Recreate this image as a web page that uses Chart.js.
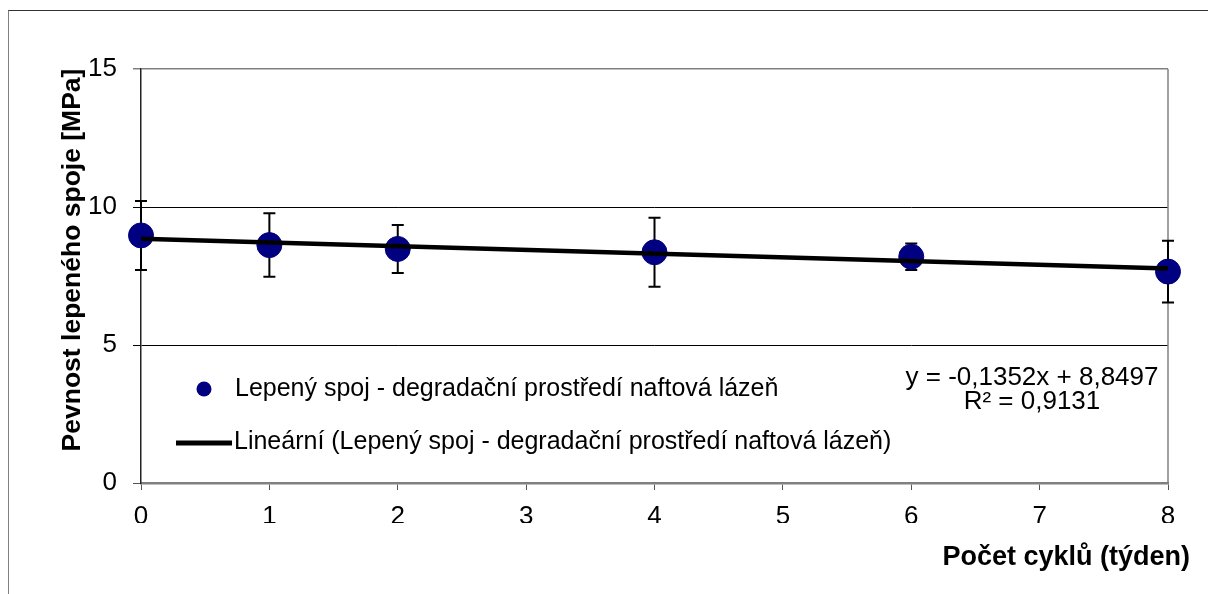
<!DOCTYPE html>
<html>
<head>
<meta charset="utf-8">
<script src="https://cdn.jsdelivr.net/npm/chart.js@4"></script>
<style>
  body { margin: 0; background: #fff; }
  #wrap { position: relative; width: 1208px; height: 594px; }
  #frame { position: absolute; left: 8px; top: 10px; width: 1300px; height: 700px;
           border-left: 1px solid #808080; border-top: 1px solid #333; }
  canvas { position: absolute; left: 0; top: 0; }
</style>
</head>
<body>
<div id="wrap">
  <div id="frame"></div>
  <canvas id="graf" width="1208" height="594"></canvas>
</div>
<script>
// Data
const tydny = [0, 1, 2, 4, 6, 8];
const pevnost = [8.97, 8.62, 8.48, 8.36, 8.20, 7.66];
const odchylka = [1.25, 1.15, 0.87, 1.25, 0.48, 1.12];
const trendX = [0, 8];
const trendY = [8.8497, 7.7681];
const yTicks = [0, 5, 10, 15];
const xTicks = [0, 1, 2, 3, 4, 5, 6, 7, 8];

const nazevRady = 'Lepený spoj - degradační prostředí naftová lázeň';
const nazevTrendu = 'Lineární (Lepený spoj - degradační prostředí naftová lázeň)';
const rovnice = ['y = -0,1352x + 8,8497', 'R² = 0,9131'];

const pismo = '"Liberation Sans", Arial, sans-serif';

// chybové úsečky, rámeček, popisky os, legenda
const doplnky = {
    id: 'doplnky',
    beforeDatasetsDraw(chart) {
        const { ctx, scales: { x, y }, chartArea: a } = chart;
        ctx.save();
        // pravý okraj plochy
        ctx.strokeStyle = '#808080';
        ctx.lineWidth = 1.5;
        ctx.beginPath();
        ctx.moveTo(a.right, a.top);
        ctx.lineTo(a.right, a.bottom);
        ctx.stroke();
        // chybové úsečky
        ctx.strokeStyle = '#000';
        ctx.lineWidth = 2;
        tydny.forEach((t, i) => {
            const px = x.getPixelForValue(t);
            const top = y.getPixelForValue(pevnost[i] + odchylka[i]);
            const bot = y.getPixelForValue(pevnost[i] - odchylka[i]);
            ctx.beginPath();
            ctx.moveTo(px, top); ctx.lineTo(px, bot);
            ctx.moveTo(px - 6, top); ctx.lineTo(px + 6, top);
            ctx.moveTo(px - 6, bot); ctx.lineTo(px + 6, bot);
            ctx.stroke();
        });
        ctx.restore();
    },
    afterDraw(chart) {
        const { ctx } = chart;
        ctx.save();
        ctx.fillStyle = '#000';
        // popisek osy y
        ctx.font = 'bold 26.5px ' + pismo;
        ctx.textAlign = 'center';
        ctx.textBaseline = 'middle';
        ctx.translate(73, 260);
        ctx.rotate(-Math.PI / 2);
        ctx.fillText('Pevnost lepeného spoje [MPa]', 0, 0);
        ctx.setTransform(1, 0, 0, 1, 0, 0);
        // popisek osy x
        ctx.font = 'bold 27px ' + pismo;
        ctx.textAlign = 'right';
        ctx.fillText('Počet cyklů (týden)', 1190, 558);
        // legenda
        ctx.font = '25px ' + pismo;
        ctx.textAlign = 'left';
        ctx.fillStyle = '#000080';
        ctx.beginPath();
        ctx.arc(204, 389, 7.5, 0, Math.PI * 2);
        ctx.fill();
        ctx.fillStyle = '#000';
        ctx.fillText(nazevRady, 235, 389);
        ctx.strokeStyle = '#000';
        ctx.lineWidth = 5;
        ctx.beginPath();
        ctx.moveTo(176, 443); ctx.lineTo(232, 443);
        ctx.stroke();
        ctx.fillText(nazevTrendu, 234, 442);
        // rovnice trendu
        ctx.font = '26px ' + pismo;
        ctx.textAlign = 'center';
        ctx.fillText(rovnice[0], 1032, 378);
        ctx.fillText(rovnice[1], 1032, 402);
        ctx.restore();
    }
};

new Chart(document.getElementById('graf'), {
    type: 'scatter',
    data: {
        datasets: [{
            label: nazevRady,
            data: tydny.map((t, i) => ({ x: t, y: pevnost[i] })),
            backgroundColor: '#000080',
            borderColor: '#000080',
            pointRadius: 12.5,
            clip: false,
            order: 1,
        }, {
            label: nazevTrendu,
            type: 'line',
            data: trendX.map((t, i) => ({ x: t, y: trendY[i] })),
            borderColor: '#000',
            borderWidth: 4.5,
            pointRadius: 0,
            fill: false,
            order: 0,
        }],
    },
    options: {
        responsive: false,
        animation: false,
        layout: { padding: { left: 61, right: 40, top: 69, bottom: 71 } },
        plugins: { legend: { display: false }, tooltip: { enabled: false } },
        scales: {
            x: {
                type: 'linear',
                min: 0,
                max: 8,
                afterBuildTicks: s => { s.ticks = xTicks.map(v => ({ value: v })); },
                afterFit: s => { s.height = 40; },
                grid: { drawOnChartArea: false, drawTicks: true, tickLength: 7, color: '#555' },
                border: { color: '#808080', width: 2.5 },
                ticks: { color: '#000', font: { family: pismo, size: 26 }, padding: 11, maxRotation: 0 },
            },
            y: {
                min: 0,
                max: 15,
                afterBuildTicks: s => { s.ticks = yTicks.map(v => ({ value: v })); },
                afterFit: s => { s.width = 80; },
                grid: {
                    color: c => c.tick && c.tick.value === 15 ? '#808080' : (c.tick && c.tick.value === 0 ? '#555' : '#000'),
                    lineWidth: c => c.tick && c.tick.value === 15 ? 1.5 : 1,
                    tickLength: 8,
                },
                border: { color: '#222', width: 1.5 },
                ticks: { color: '#000', font: { family: pismo, size: 26 }, padding: 16 },
            },
        },
    },
    plugins: [doplnky],
});
</script>
</body>
</html>
